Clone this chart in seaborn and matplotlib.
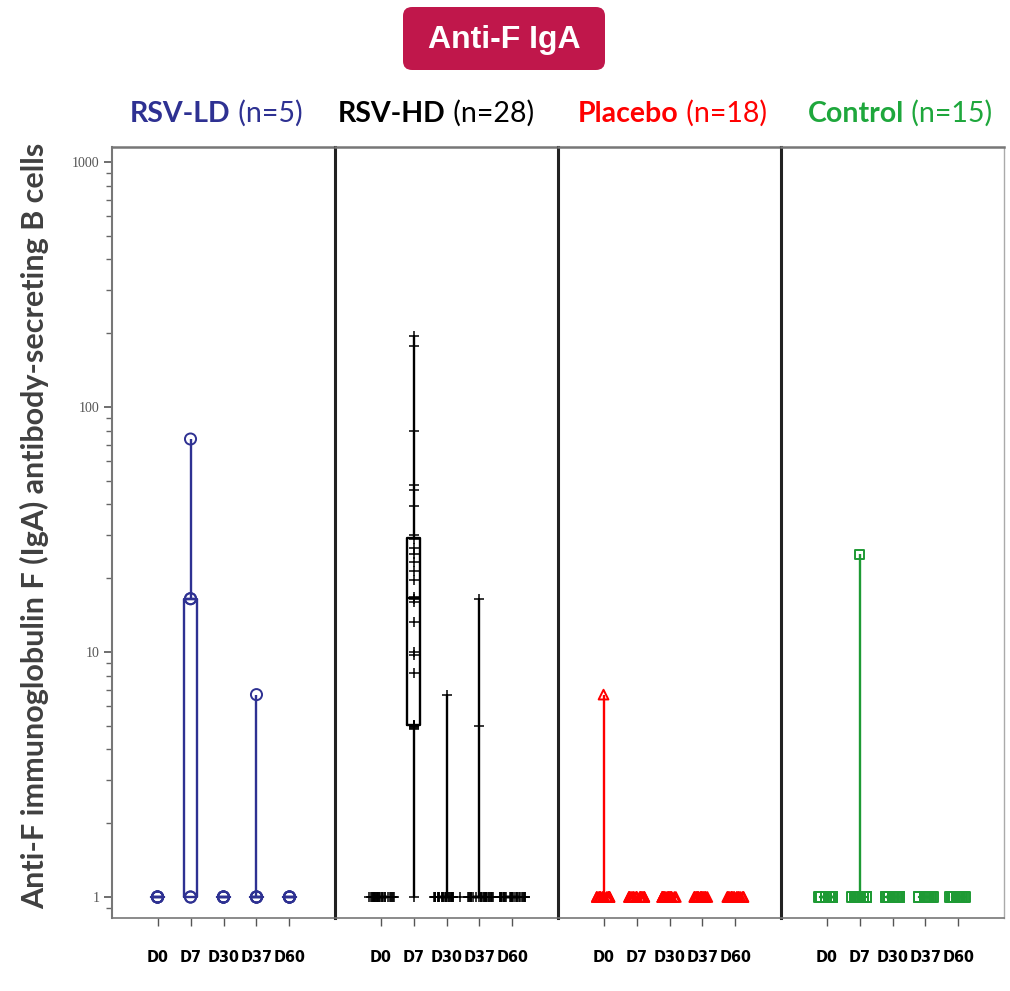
import numpy as np
import pandas as pd
import matplotlib
matplotlib.use("Agg")
import matplotlib.pyplot as plt
import seaborn as sns
from matplotlib.patches import FancyBboxPatch
from matplotlib.ticker import LogLocator, FixedLocator, NullFormatter

# ---------------- data ----------------
days = ["D0", "D7", "D30", "D37", "D60"]
groups = ["RSV-LD", "RSV-HD", "Placebo", "Control"]
group_n = [5, 28, 18, 15]
group_colors = ["#2E3192", "#000000", "#FF0000", "#1E9A34"]
header_colors = ["#2E3192", "#000000", "#FF0000", "#1EA73C"]
group_markers = ["o", "+", "^", "s"]
group_jitter = [0.0, 0.42, 0.25, 0.25]
group_msize = [8, 7, 7, 7]

rsvld = {
    "D0": [1, 1, 1, 1, 1],
    "D7": [1, 1, 16.5, 16.5, 74],
    "D30": [1, 1, 1, 1, 1],
    "D37": [1, 1, 1, 1, 6.7],
    "D60": [1, 1, 1, 1, 1],
}
rsvhd = {
    "D0": [1] * 28,
    "D7": [1, 4.85, 4.9, 4.95, 4.98, 5.0, 5.02, 5.05,
           8.2, 9.7, 10.0, 13.2, 16.0, 16.5, 16.7,
           19.7, 21.5, 23.3, 25.0, 26.6, 29.0, 30.0,
           39.5, 46, 48, 80, 177, 195],
    "D30": [1] * 27 + [6.7],
    "D37": [1] * 26 + [5.0, 16.5],
    "D60": [1] * 28,
}
placebo = {
    "D0": [1] * 17 + [6.7],
    "D7": [1] * 18,
    "D30": [1] * 18,
    "D37": [1] * 18,
    "D60": [1] * 18,
}
control = {
    "D0": [1] * 15,
    "D7": [1] * 14 + [25.0],
    "D30": [1] * 15,
    "D37": [1] * 15,
    "D60": [1] * 15,
}
group_data = [rsvld, rsvhd, placebo, control]

rows = []
for g, d in zip(groups, group_data):
    for day in days:
        vals = d[day]
        for v in vals:
            rows.append({"group": g, "day": day, "value": v,
                         "tie": vals.count(v) > 1})
df = pd.DataFrame(rows)

# ---------------- figure ----------------
np.random.seed(3)
sns.set_style("white")
plt.rcParams["font.family"] = ["Lato", "DejaVu Sans"]

W, H = 1010, 991
fig = plt.figure(figsize=(W / 100, H / 100), dpi=100)
left, right = 112 / W, 1004 / W
bottom, top = 1 - 918 / H, 1 - 147 / H
pw = (right - left) / 4
axes = []
for i in range(4):
    ax = fig.add_axes([left + i * pw, bottom, pw, top - bottom],
                      sharey=axes[0] if axes else None)
    axes.append(ax)

for i, (ax, g) in enumerate(zip(axes, groups)):
    ax.set_yscale("log")
    sub = df[df["group"] == g]
    c = group_colors[i]
    sns.boxplot(data=sub, x="day", y="value", order=days, whis=(0, 100),
                width=0.42, fill=False, color=c, linewidth=1.7,
                showfliers=False, showcaps=False, ax=ax)
    for part, jit in ((sub[sub["tie"]], group_jitter[i]),
                      (sub[~sub["tie"]], 0.0)):
        if part.empty:
            continue
        nb = len(ax.collections)
        sns.stripplot(data=part, x="day", y="value", order=days,
                      jitter=jit if jit > 0 else False, color=c,
                      marker=group_markers[i], size=group_msize[i],
                      ax=ax, zorder=3)
        for coll in ax.collections[nb:]:
            if group_markers[i] == "+":
                coll.set_color(c)
                coll.set_linewidth(1.1)
            else:
                coll.set_facecolor("none")
                coll.set_edgecolor(c)
                coll.set_linewidth(1.4)

    ax.set_xlim(-1.38, 5.38)
    ax.set_xlabel("")
    ax.set_ylabel("")
    ax.set_xticks(range(len(days)))
    ax.set_xticklabels(days, fontsize=11.5, fontweight="bold", color="black",
                       family="DejaVu Sans", fontstretch="condensed")
    ax.tick_params(axis="x", length=6, width=1, color="#555555",
                   direction="out", pad=17, bottom=True)
    for s in ax.spines.values():
        s.set_visible(True)
    ax.spines["top"].set_color("#777777")
    ax.spines["top"].set_linewidth(1.8)
    ax.spines["bottom"].set_color("#777777")
    ax.spines["bottom"].set_linewidth(1.2)
    if i == 0:
        ax.spines["left"].set_color("#777777")
        ax.spines["left"].set_linewidth(1.5)
    else:
        ax.spines["left"].set_color("#222222")
        ax.spines["left"].set_linewidth(2.2)
        ax.tick_params(axis="y", which="both", left=False, labelleft=False)
    if i < 3:
        ax.spines["right"].set_visible(False)
    else:
        ax.spines["right"].set_color("#aaaaaa")
        ax.spines["right"].set_linewidth(1.0)

ax0 = axes[0]
ax0.set_ylim(0.821, 1151)
ax0.yaxis.set_major_locator(FixedLocator([1, 10, 100, 1000]))
ax0.set_yticklabels(["1", "10", "100", "1000"])
ax0.yaxis.set_minor_locator(LogLocator(base=10, subs=np.arange(2, 10)))
ax0.yaxis.set_minor_formatter(NullFormatter())
ax0.tick_params(axis="y", which="major", length=6, width=1.2, color="#555555",
                labelsize=10, labelcolor="#555555", left=True, pad=3)
ax0.tick_params(axis="y", which="minor", length=4, width=1, color="#666666",
                left=True)
for lab in ax0.get_yticklabels():
    lab.set_family(["Liberation Serif", "DejaVu Serif"])

# ---------------- texts ----------------
fig.text(35 / W, 1 - 526 / H,
         "Anti-F immunoglobulin F (IgA) antibody-secreting B cells",
         rotation=90, ha="center", va="center", fontsize=22,
         fontweight="bold", color="#404040")

header_x = [130, 338, 578, 808]
for i in range(4):
    t1 = fig.text(header_x[i] / W, 1 - 122 / H, groups[i], fontsize=20.5,
                  fontweight="bold", color=header_colors[i], va="baseline")
    plt.annotate(f" (n={group_n[i]})", xy=(1, 0), xycoords=t1,
                 va="bottom", ha="left", fontsize=20.5,
                 color=header_colors[i], annotation_clip=False)

box = FancyBboxPatch((403 / W, 1 - 70 / H), 202 / W, 63 / H,
                     boxstyle="round,pad=0,rounding_size=0.009",
                     transform=fig.transFigure, facecolor="#C0174B",
                     edgecolor="none")
fig.add_artist(box)
fig.text(504 / W, 1 - 40 / H, "Anti-F IgA", ha="center", va="center",
         fontsize=23, fontweight="bold", color="white",
         family=["Liberation Sans", "DejaVu Sans"])

fig.savefig("out.png", dpi=100)
